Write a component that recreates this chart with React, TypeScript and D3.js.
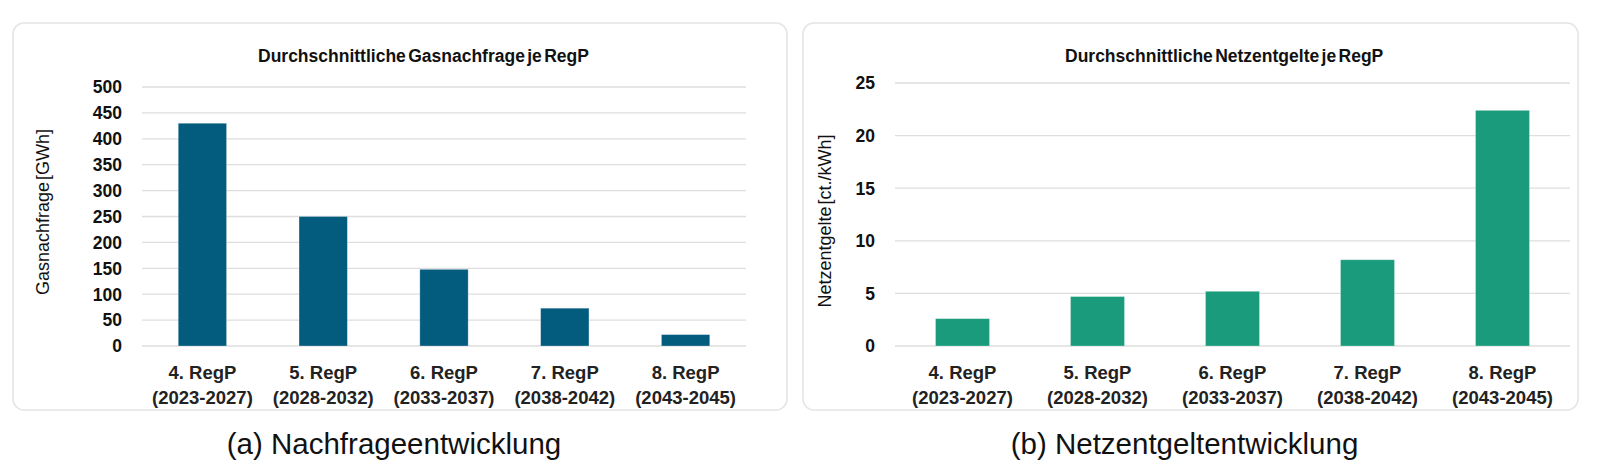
import * as d3 from 'd3';

// Regulierungsperioden (x categories)
const periods = ['4. RegP', '5. RegP', '6. RegP', '7. RegP', '8. RegP'];
const periodYears = ['(2023-2027)', '(2028-2032)', '(2033-2037)', '(2038-2042)', '(2043-2045)'];

// series values
const gasDemand = [430, 250, 148, 73, 22]; // GWh
const gridFees = [2.6, 4.7, 5.2, 8.2, 22.4]; // ct./kWh

const FONT = '"Liberation Sans", Arial, sans-serif';

interface PanelProps {
    values: number[];
    yMax: number;
    tickCount: number;
    color: string;
    title: string;
    yLabel: string;
    caption: string;
    box: { x0: number; x1: number };
    plot: { x0: number; x1: number; yTop: number; yBottom: number };
    titleX: number;
    yLabelX: number;
    yLabelY: number;
}

function Panel({ values, yMax, tickCount, color, title, yLabel, caption, box, plot, titleX, yLabelX, yLabelY }: PanelProps) {
    const x = d3.scaleBand<string>()
        .domain(periods)
        .range([plot.x0, plot.x1])
        .paddingInner(0.6)
        .paddingOuter(0.3);

    const y = d3.scaleLinear()
        .domain([0, yMax])
        .range([plot.yBottom, plot.yTop]);

    const ticks = y.ticks(tickCount);
    const boxCenter = (box.x0 + box.x1) / 2;

    return (
        <g>
            <rect x={box.x0} y={23} width={box.x1 - box.x0} height={387} rx={11}
                fill="#fff" stroke="#e4e4e4" strokeWidth={1.5} />

            <text x={titleX} y={62} fontFamily={FONT} fontWeight="bold" fontSize={17.5}
                wordSpacing={-2.5} fill="#111">{title}</text>

            {/* gridlines + tick labels */}
            {ticks.map((t) => (
                <g key={t}>
                    <line x1={plot.x0} x2={plot.x1} y1={y(t)} y2={y(t)} stroke="#dedede" strokeWidth={1.3} />
                    <text x={plot.x0 - 20} y={y(t)} dy="0.36em" textAnchor="end"
                        fontFamily={FONT} fontWeight="bold" fontSize={17.5} fill="#111">{t}</text>
                </g>
            ))}

            {/* bars */}
            {values.map((v, i) => (
                <rect key={periods[i]} x={x(periods[i])} y={y(v)} width={x.bandwidth()}
                    height={y(0) - y(v)} fill={color} stroke="#ffffff" strokeOpacity={0.35} strokeWidth={0.8} />
            ))}

            {/* x labels */}
            {periods.map((p, i) => (
                <text key={p} x={(x(p) ?? 0) + x.bandwidth() / 2} textAnchor="middle"
                    fontFamily={FONT} fontWeight="bold" fontSize={18.5} fill="#222">
                    <tspan x={(x(p) ?? 0) + x.bandwidth() / 2} y={379}>{p}</tspan>
                    <tspan x={(x(p) ?? 0) + x.bandwidth() / 2} y={404}>{periodYears[i]}</tspan>
                </text>
            ))}

            <text transform={`translate(${yLabelX},${yLabelY}) rotate(-90)`} textAnchor="middle" dy="0.35em"
                fontFamily={FONT} fontSize={18} wordSpacing={-3} fill="#111">{yLabel}</text>

            <text x={boxCenter - 6} y={454} textAnchor="middle" fontFamily={FONT} fontSize={29.5} fill="#111">
                {caption}
            </text>
        </g>
    );
}

export default function App() {
    return (
        <svg width={1600} height={476} style={{ position: 'absolute', left: 0, top: 0, background: '#fff' }}>
            <Panel
                values={gasDemand}
                yMax={500}
                tickCount={10}
                color="#035b7e"
                title="Durchschnittliche Gasnachfrage je RegP"
                yLabel="Gasnachfrage [GWh]"
                caption="(a) Nachfrageentwicklung"
                box={{ x0: 13, x1: 787 }}
                plot={{ x0: 142, x1: 746, yTop: 87, yBottom: 346 }}
                titleX={258}
                yLabelX={43}
                yLabelY={212}
            />
            <Panel
                values={gridFees}
                yMax={25}
                tickCount={5}
                color="#1a9c7c"
                title="Durchschnittliche Netzentgelte je RegP"
                yLabel="Netzentgelte [ct./kWh]"
                caption="(b) Netzentgeltentwicklung"
                box={{ x0: 803, x1: 1578 }}
                plot={{ x0: 895, x1: 1570, yTop: 83, yBottom: 346 }}
                titleX={1065}
                yLabelX={825}
                yLabelY={221}
            />
        </svg>
    );
}
